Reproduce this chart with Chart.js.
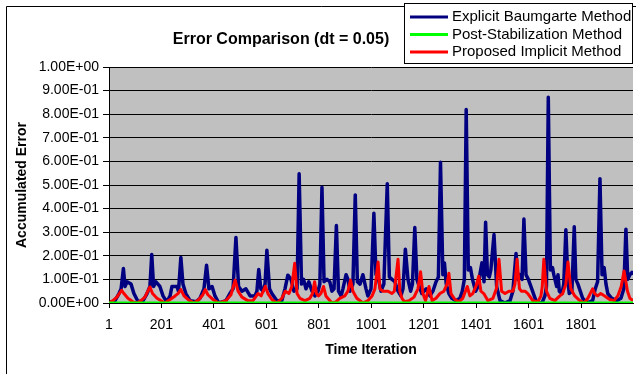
<!DOCTYPE html>
<html>
<head>
<meta charset="utf-8">
<script src="https://cdn.jsdelivr.net/npm/chart.js@4.4.0/dist/chart.umd.min.js"></script>
<style>
body { margin: 0; background: #fff; }
</style>
</head>
<body>
<canvas id="errorChart" width="636" height="374"></canvas>
<script>
// x tick labels (time iteration)
const xTickLabels = [1, 201, 401, 601, 801, 1001, 1201, 1401, 1601, 1801];

const seriesNames = ['Explicit Baumgarte Method', 'Post-Stabilization Method', 'Proposed Implicit Method'];

// [iteration, accumulated error]
const baumgarte = [
  [1, 0], [24, 0.01], [39, 0.04], [47, 0.06], [56, 0.146], [62, 0.07], [70, 0.09], [85, 0.08], [96, 0.04], [112, 0.005],
  [131, 0.01], [146, 0.04], [157, 0.07], [164, 0.206], [171, 0.07], [180, 0.09], [195, 0.07], [207, 0.03], [221, 0.005], [234, 0.03],
  [241, 0.07], [260, 0.07], [266, 0.05], [275, 0.193], [283, 0.08], [294, 0.04], [310, 0.01], [333, 0.005], [348, 0.02], [363, 0.06],
  [373, 0.16], [382, 0.06], [394, 0.07], [405, 0.03], [420, 0], [447, 0.01], [462, 0.04], [474, 0.06], [485, 0.278], [495, 0.07],
  [508, 0.05], [523, 0.06], [539, 0.03], [558, 0.03], [565, 0.05], [572, 0.142], [580, 0.06], [588, 0.05], [596, 0.08], [603, 0.224],
  [613, 0.06], [622, 0.04], [641, 0.01], [660, 0.01], [672, 0.06], [683, 0.118], [695, 0.1], [706, 0.05], [718, 0.06], [726, 0.548],
  [735, 0.08], [743, 0.1], [752, 0.06], [763, 0.09], [775, 0.05], [786, 0.03], [798, 0.05], [805, 0.08], [813, 0.49], [821, 0.09],
  [832, 0.1], [843, 0.09], [851, 0.05], [859, 0.06], [868, 0.328], [876, 0.05], [886, 0.03], [893, 0.06], [905, 0.12], [912, 0.1],
  [920, 0.05], [931, 0.08], [940, 0.458], [948, 0.09], [958, 0.08], [969, 0.12], [981, 0.06], [988, 0.03], [1000, 0.06], [1011, 0.38],
  [1019, 0.12], [1027, 0.11], [1038, 0.05], [1049, 0.08], [1062, 0.505], [1070, 0.11], [1080, 0.1], [1091, 0.09], [1103, 0.05], [1114, 0.03],
  [1122, 0.06], [1131, 0.228], [1141, 0.1], [1151, 0.05], [1158, 0.08], [1167, 0.32], [1175, 0.1], [1187, 0.06], [1194, 0.04], [1210, 0.06],
  [1225, 0.03], [1236, 0.05], [1248, 0.09], [1257, 0.11], [1265, 0.596], [1274, 0.12], [1280, 0.17], [1287, 0.08], [1297, 0.04], [1308, 0.02],
  [1324, 0.01], [1339, 0.02], [1348, 0.05], [1356, 0.1], [1363, 0.82], [1371, 0.14], [1379, 0.15], [1387, 0.1], [1399, 0.05], [1408, 0.07],
  [1415, 0.12], [1423, 0.17], [1431, 0.09], [1437, 0.342], [1444, 0.12], [1451, 0.11], [1457, 0.14], [1469, 0.29], [1479, 0.07], [1492, 0.01],
  [1511, 0], [1530, 0.01], [1541, 0.05], [1553, 0.21], [1560, 0.1], [1568, 0.12], [1576, 0.1], [1583, 0.356], [1591, 0.12], [1600, 0.1],
  [1613, 0.06], [1632, 0], [1652, 0], [1663, 0.03], [1669, 0.07], [1676, 0.872], [1684, 0.14], [1692, 0.15], [1697, 0.12], [1708, 0.07],
  [1713, 0.12], [1718, 0.05], [1728, 0.04], [1735, 0.08], [1743, 0.31], [1751, 0.09], [1756, 0.04], [1766, 0.05], [1775, 0.323], [1781, 0.1],
  [1789, 0.08], [1807, 0.02], [1823, 0], [1845, 0.01], [1855, 0.06], [1864, 0.09], [1873, 0.527], [1881, 0.12], [1889, 0.15], [1896, 0.08],
  [1903, 0.04], [1918, 0.02], [1937, 0.01], [1953, 0.02], [1964, 0.06], [1972, 0.313], [1979, 0.1], [1987, 0.12], [1995, 0.13], [1999, 0.12]
];

const postStabilization = [[1, 0], [1999, 0]];

const implicit = [
  [1, 0], [16, 0.01], [31, 0.025], [49, 0.054], [58, 0.04], [73, 0.02], [92, 0.005], [107, 0], [123, 0.01], [138, 0.025],
  [157, 0.068], [167, 0.04], [184, 0.02], [214, 0], [234, 0.015], [253, 0.03], [264, 0.04], [275, 0.057], [287, 0.03], [302, 0.015],
  [325, 0], [344, 0.015], [359, 0.035], [368, 0.057], [378, 0.035], [397, 0.015], [420, 0], [447, 0.01], [466, 0.035], [482, 0.097],
  [493, 0.05], [508, 0.025], [530, 0.01], [550, 0.01], [569, 0.04], [581, 0.03], [597, 0.071], [607, 0.04], [622, 0.015], [641, 0],
  [660, 0.02], [673, 0.05], [687, 0.04], [698, 0.07], [709, 0.168], [718, 0.04], [729, 0.02], [748, 0.01], [767, 0.02], [777, 0.04],
  [785, 0.09], [792, 0.04], [800, 0.03], [809, 0.04], [819, 0.07], [828, 0.03], [851, 0], [866, 0.005], [881, 0.02], [900, 0.03],
  [912, 0.05], [922, 0.097], [931, 0.05], [946, 0.02], [969, 0], [988, 0.01], [1004, 0.03], [1015, 0.06], [1027, 0.174], [1034, 0.06],
  [1046, 0.05], [1065, 0.05], [1080, 0.04], [1089, 0.05], [1103, 0.185], [1110, 0.05], [1118, 0.02], [1128, 0.005], [1145, 0.01], [1164, 0.025],
  [1179, 0.06], [1189, 0.132], [1198, 0.04], [1208, 0.01], [1221, 0.07], [1233, 0.01], [1248, 0.02], [1263, 0.04], [1278, 0.05], [1290, 0.08],
  [1297, 0.126], [1305, 0.04], [1320, 0.015], [1335, 0.005], [1350, 0.02], [1367, 0.07], [1377, 0.03], [1388, 0.04], [1400, 0.07], [1411, 0.114],
  [1419, 0.05], [1430, 0.04], [1446, 0.01], [1465, 0.02], [1478, 0.06], [1488, 0.185], [1498, 0.05], [1511, 0.04], [1526, 0.05], [1541, 0.05],
  [1549, 0.08], [1557, 0.185], [1566, 0.06], [1574, 0.05], [1587, 0.05], [1598, 0.04], [1617, 0.01], [1636, 0.005], [1648, 0.03], [1653, 0.07],
  [1659, 0.185], [1669, 0.05], [1682, 0.02], [1701, 0.01], [1720, 0.03], [1731, 0.04], [1743, 0.08], [1751, 0.174], [1762, 0.06], [1777, 0.03],
  [1796, 0.01], [1813, 0], [1827, 0.02], [1845, 0.06], [1853, 0.04], [1864, 0.03], [1876, 0.04], [1891, 0.03], [1910, 0.015], [1927, 0.01],
  [1941, 0.03], [1954, 0.07], [1965, 0.136], [1978, 0.05], [1987, 0.02], [1999, 0.01]
];

const FONT = 'Arial, "Liberation Sans", sans-serif';

// Excel style exponent labels: 1.00E-01
function sciLabel(value) {
  const parts = Number(value).toExponential(2).split('e');
  const exp = parts[1];
  return parts[0] + 'E' + exp[0] + exp.slice(1).padStart(2, '0');
}

// plot background, outer frame, title and boxed legend
const excelFrame = {
  id: 'excelFrame',
  beforeDraw(chart) {
    const { ctx, chartArea: a } = chart;
    ctx.save();
    ctx.fillStyle = '#c0c0c0';
    ctx.fillRect(a.left, a.top, a.right - a.left, a.bottom - a.top);
    ctx.restore();
  },
  afterDraw(chart) {
    const ctx = chart.ctx;
    ctx.save();
    ctx.strokeStyle = '#000';
    ctx.lineWidth = 1;
    ctx.beginPath();
    ctx.moveTo(6.5, 374);
    ctx.lineTo(6.5, 6.5);
    ctx.lineTo(636, 6.5);
    ctx.stroke();

    ctx.fillStyle = '#000';
    ctx.font = 'bold 16px ' + FONT;
    ctx.textAlign = 'center';
    ctx.textBaseline = 'middle';
    ctx.fillText('Error Comparison (dt = 0.05)', 281, 40);

    ctx.fillStyle = '#fff';
    ctx.fillRect(404.5, 3.5, 228, 60);
    ctx.strokeRect(404.5, 3.5, 228, 60);
    ctx.font = '15px ' + FONT;
    ctx.textAlign = 'left';
    chart.data.datasets.forEach((ds, i) => {
      const y = 17 + i * 17.5;
      ctx.strokeStyle = ds.borderColor;
      ctx.lineWidth = 3;
      ctx.beginPath();
      ctx.moveTo(410, y);
      ctx.lineTo(448, y);
      ctx.stroke();
      ctx.fillStyle = '#000';
      ctx.fillText(ds.label, 452, y);
    });
    ctx.restore();
  }
};

const ctx = document.getElementById('errorChart').getContext('2d');

new Chart(ctx, {
  type: 'line',
  data: {
    datasets: [{
      label: seriesNames[0],
      data: baumgarte,
      borderColor: '#000080',
      borderWidth: 3.5,
      order: 3
    }, {
      label: seriesNames[1],
      data: postStabilization,
      borderColor: '#00ff00',
      borderWidth: 3,
      order: 1
    }, {
      label: seriesNames[2],
      data: implicit,
      borderColor: '#ff0000',
      borderWidth: 3,
      order: 2
    }]
  },
  options: {
    responsive: false,
    animation: false,
    layout: {
      padding: { left: 6, right: 3, top: 67, bottom: 0 }
    },
    elements: {
      point: { radius: 0 },
      line: { tension: 0, borderJoinStyle: 'round' }
    },
    scales: {
      x: {
        type: 'linear',
        min: 1,
        max: 1999,
        afterBuildTicks: scale => {
          scale.ticks = xTickLabels.map(v => ({ value: v }));
        },
        afterFit: scale => { scale.height = 71; },
        grid: { drawOnChartArea: false, color: '#000', tickLength: 5 },
        border: { color: '#000', width: 1 },
        ticks: {
          color: '#000',
          font: { family: FONT, size: 14 },
          padding: 9,
          maxRotation: 0,
          autoSkip: false,
          callback: value => String(value)
        },
        title: {
          display: true,
          text: 'Time Iteration',
          color: '#000',
          font: { family: FONT, size: 14, weight: 'bold' },
          padding: { top: 15, bottom: 15 }
        }
      },
      y: {
        min: 0,
        max: 1,
        afterFit: scale => { scale.width = 103; },
        grid: { color: '#000', tickLength: 6 },
        border: { color: '#000', width: 1 },
        ticks: {
          stepSize: 0.1,
          color: '#000',
          font: { family: FONT, size: 14 },
          padding: 4,
          callback: value => sciLabel(value)
        },
        title: {
          display: true,
          text: 'Accumulated Error',
          color: '#000',
          font: { family: FONT, size: 14, weight: 'bold' },
          padding: { top: 8, bottom: 8 }
        }
      }
    },
    plugins: {
      legend: { display: false },
      tooltip: { enabled: false }
    }
  },
  plugins: [excelFrame]
});
</script>
</body>
</html>
